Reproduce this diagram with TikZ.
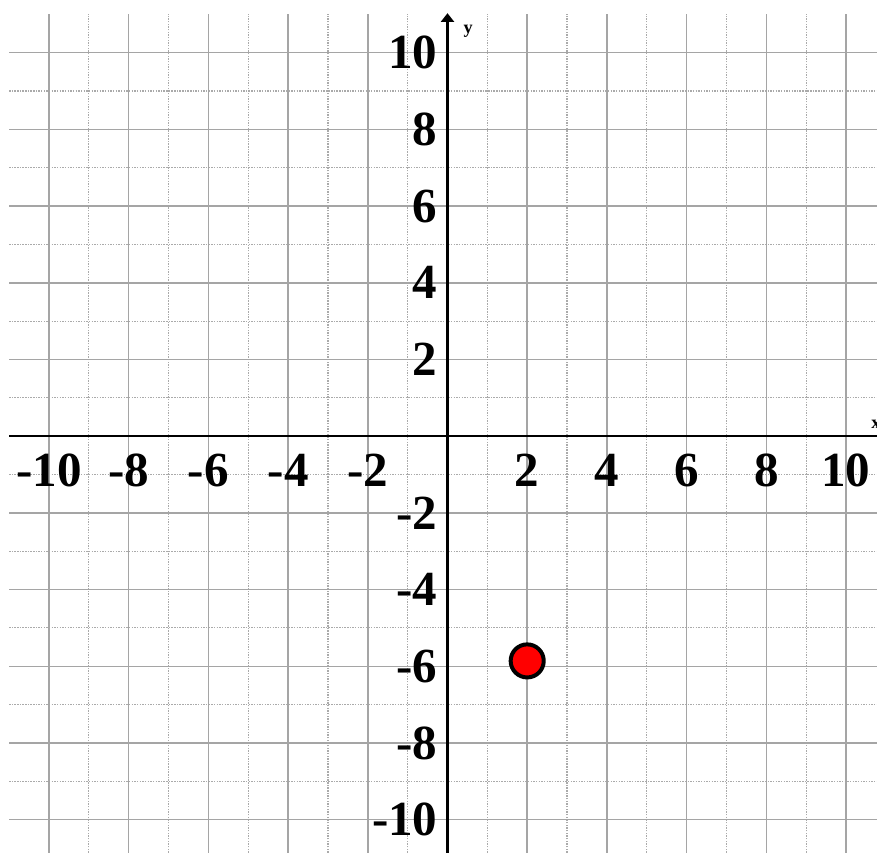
\documentclass[tikz,border=0pt]{standalone}
\usepackage{fontspec}
\setmainfont{Liberation Serif}
\usetikzlibrary{arrows.meta}
\definecolor{gridsolid}{RGB}{165,165,165}
\definecolor{griddot}{RGB}{170,170,170}
\definecolor{ptred}{RGB}{255,0,0}
\tikzset{
  majorline/.style={draw=gridsolid, line width=1.1pt},
  minorline/.style={draw=griddot, line width=0.8pt, dash pattern=on 1pt off 0.9pt},
  axisline/.style={draw=black, line width=1.5pt},
  ticklabel/.style={inner sep=0pt, font=\fontsize{35}{35}\selectfont\bfseries},
  axislabel/.style={inner sep=0pt, font=\fontsize{13}{13}\selectfont\bfseries},
  dotpoint/.style={circle, draw=black, fill=ptred, line width=0.1cm, minimum size=0.83cm, inner sep=0pt}
}
\begin{document}
\begin{tikzpicture}[x=1cm, y=0.96236cm]
\useasboundingbox (-11.23,-10.868) rectangle (10.778,11.374);
\clip (-11.23,-10.868) rectangle (10.778,11.374);
% minor (dotted) grid lines
\foreach \k in {-9,-7,...,9} {
  \draw[minorline] (\k,-11) -- (\k,11);
  \draw[minorline] (-11,\k) -- (11,\k);
}
% major (solid) grid lines
\foreach \k in {-10,-8,...,10} {
  \draw[majorline] (\k,-11) -- (\k,11);
  \draw[majorline] (-11,\k) -- (11,\k);
}
% axes
\coordinate (xs) at (-11,0);
\coordinate (xe) at (11.3,0);
\coordinate (ys) at (0,-11.3);
\coordinate (ye) at (0,11.03);
\draw[axisline, -{Triangle[width=0.33cm,length=0.22cm]}] (xs) -- (xe);
\draw[axisline, -{Triangle[width=0.33cm,length=0.22cm]}] (ys) -- (ye);
\node[axislabel, anchor=base west] (ylab) at (0.4,10.51) {y};
\node[axislabel, anchor=base west] (xlab) at (10.63,0.2) {x};
% tick labels
\foreach \k in {-10,-8,-6,-4,-2,2,4,6,8,10} {
  \node[ticklabel, anchor=center] (xt\k) at (\k,-0.89) {\k};
  \node[ticklabel, anchor=east] (yt\k) at (-0.245,\k) {\k};
}
% point
\node[dotpoint] (pt) at (2,-5.86) {};
\end{tikzpicture}
\end{document}
